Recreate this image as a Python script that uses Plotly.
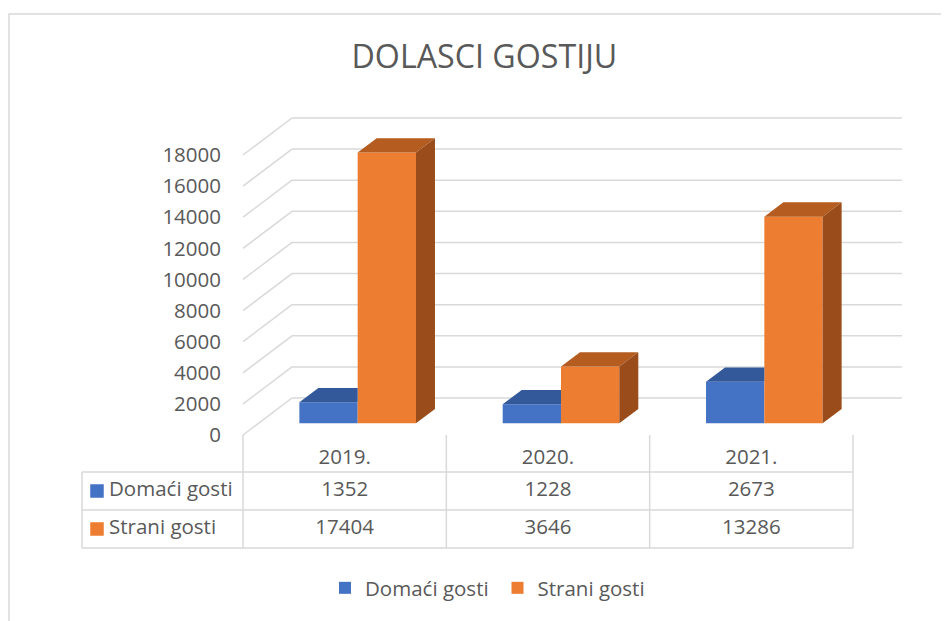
import plotly.graph_objects as go

# ---------------- data ----------------
categories = ["2019.", "2020.", "2021."]
series_names = ["Domaći gosti", "Strani gosti"]
domaci = [1352, 1228, 2673]
strani = [17404, 3646, 13286]
y_ticks = list(range(0, 18001, 2000))
y_tick_labels = [str(v) for v in y_ticks]

# ---------------- styling / geometry ----------------
W, H = 949, 621          # browser window
OFF = 8                  # default page body margin
FW, FH = W - OFF, H - OFF
FONT = "Open Sans"
TXT = "#595959"
GRID = "#D9D9D9"
FRONT = ["#4472C4", "#ED7D31"]
TOP = ["#34599A", "#B55D21"]
SIDE = ["#2A4A80", "#9A4C1B"]

X0_PX = 243.0          # left edge of front plane / first category (window px)
CAT_PX = 203.33        # category width (px)
ZERO_PX = 435.0        # window y pixel of value 0 on the front plane
PPV = 280.0 / 18000    # px per value unit


def ux(px):  # window px -> x data unit
    return (px - X0_PX) / CAT_PX - 0.5


def dv(px):  # px distance -> value distance
    return px / PPV


def px_x(px):  # window px -> paper x
    return (px - OFF) / FW


def px_y(py):  # window px -> paper y
    return 1 - (py - OFF) / FH


FLOOR_DX, FLOOR_DV = 49 / CAT_PX, dv(37)
BAR_SHIFT, BAR_BASE = 13 / CAT_PX, dv(11.7)
BAR_W = 58.3 / CAT_PX
BAR_DX, BAR_DV = 19 / CAT_PX, dv(14.3)

xr = [ux(OFF), ux(W)]
yr = [(ZERO_PX - H) / PPV, (ZERO_PX - OFF) / PPV]

fig = go.Figure()

# ---------------- 3D columns ----------------
series = [domaci, strani]
offsets = [BAR_SHIFT - BAR_W, BAR_SHIFT]
for s, (name, vals) in enumerate(zip(series_names, series)):
    fig.add_trace(go.Bar(
        x=list(range(len(categories))), y=vals, base=BAR_BASE,
        width=BAR_W, offset=offsets[s], name=name,
        marker=dict(color=FRONT[s], line=dict(width=0)),
        showlegend=True, hoverinfo="skip"))

for s, vals in enumerate(series):
    tx, ty, sx, sy = [], [], [], []
    for i, v in enumerate(vals):
        x0 = i + offsets[s]
        x1 = x0 + BAR_W
        t = BAR_BASE + v
        if s == 0:
            # top face; the part hidden behind the taller neighbouring column is clipped
            tx += [x0, x1, x1, x0 + BAR_DX, x0, None]
            ty += [t, t, t + BAR_DV, t + BAR_DV, t, None]
        else:
            tx += [x0, x1, x1 + BAR_DX, x0 + BAR_DX, x0, None]
            ty += [t, t, t + BAR_DV, t + BAR_DV, t, None]
            sx += [x1, x1 + BAR_DX, x1 + BAR_DX, x1, x1, None]
            sy += [BAR_BASE, BAR_BASE + BAR_DV, t + BAR_DV, t, BAR_BASE, None]
    fig.add_trace(go.Scatter(x=tx, y=ty, mode="lines", fill="toself",
                             fillcolor=TOP[s], line=dict(width=0),
                             showlegend=False, hoverinfo="skip"))
    if sx:
        fig.add_trace(go.Scatter(x=sx, y=sy, mode="lines", fill="toself",
                                 fillcolor=SIDE[s], line=dict(width=0),
                                 showlegend=False, hoverinfo="skip"))

# ---------------- gridlines (front diagonals + back wall) ----------------
shapes = []
n = len(categories)
for v in y_ticks:
    shapes.append(dict(type="line", xref="x", yref="y", layer="below",
                       x0=-0.5, y0=v, x1=-0.5 + FLOOR_DX, y1=v + FLOOR_DV,
                       line=dict(color=GRID, width=1.5)))
    shapes.append(dict(type="line", xref="x", yref="y", layer="below",
                       x0=-0.5 + FLOOR_DX, y0=v + FLOOR_DV,
                       x1=n - 0.5 + FLOOR_DX, y1=v + FLOOR_DV,
                       line=dict(color=GRID, width=1.5)))

# ---------------- data table ----------------
HEAD_Y, R1_Y, R2_Y = 459, 491, 529
TBL_LEFT = ux(82)
for yy in (472, 510, 548):
    shapes.append(dict(type="line", xref="x", yref="y2", layer="below",
                       x0=TBL_LEFT, x1=n - 0.5, y0=yy, y1=yy,
                       line=dict(color=GRID, width=1.5)))
for i in range(n + 1):
    shapes.append(dict(type="line", xref="x", yref="y2", layer="below",
                       x0=i - 0.5, x1=i - 0.5, y0=ZERO_PX, y1=548,
                       line=dict(color=GRID, width=1.5)))
shapes.append(dict(type="line", xref="x", yref="y2", layer="below",
                   x0=TBL_LEFT, x1=TBL_LEFT, y0=472, y1=548,
                   line=dict(color=GRID, width=1.5)))

# chart border
shapes.append(dict(type="rect", xref="paper", yref="paper", layer="below",
                   x0=px_x(9), x1=1.05, y0=-0.05, y1=px_y(14),
                   line=dict(color=GRID, width=1.5), fillcolor="rgba(0,0,0,0)"))

tfont = dict(family=FONT, size=20.5, color=TXT)
fig.add_trace(go.Scatter(x=list(range(n)), y=[HEAD_Y] * n, yaxis="y2",
                         mode="text", text=categories, textfont=tfont,
                         showlegend=False, hoverinfo="skip"))
for rowy, vals in ((R1_Y, domaci), (R2_Y, strani)):
    fig.add_trace(go.Scatter(x=list(range(n)), y=[rowy] * n, yaxis="y2",
                             mode="text", text=[str(v) for v in vals],
                             textfont=tfont, showlegend=False, hoverinfo="skip"))
fig.add_trace(go.Scatter(x=[ux(97), ux(97)], y=[R1_Y, R2_Y], yaxis="y2",
                         mode="markers",
                         marker=dict(symbol="square", size=13.5, color=FRONT),
                         showlegend=False, hoverinfo="skip"))
fig.add_trace(go.Scatter(x=[ux(109), ux(109)], y=[R1_Y, R2_Y], yaxis="y2",
                         mode="text", text=series_names, textposition="middle right",
                         textfont=tfont, showlegend=False, hoverinfo="skip"))

fig.update_layout(
    width=FW, height=FH, autosize=False,
    margin=dict(l=0, r=0, t=0, b=0),
    paper_bgcolor="white", plot_bgcolor="white",
    barmode="overlay",
    title=dict(text="DOLASCI GOSTIJU", x=px_x(484.4), xanchor="center",
               xref="paper", y=px_y(56.5), yanchor="middle",
               font=dict(family=FONT, size=32.2, color=TXT)),
    xaxis=dict(range=xr, domain=[0, 1], visible=False, fixedrange=True),
    yaxis=dict(range=yr, domain=[0, 1], anchor="free", position=px_x(X0_PX),
               tickvals=y_ticks, ticktext=y_tick_labels, ticks="",
               showgrid=False, zeroline=False,
               showline=False, ticklabelstandoff=22,
               tickfont=dict(family=FONT, size=20.5, color=TXT), fixedrange=True),
    yaxis2=dict(range=[H, OFF], overlaying="y", anchor="x", visible=False,
                fixedrange=True),
    shapes=shapes,
    legend=dict(orientation="h", x=px_x(325), xanchor="left",
                y=px_y(588), yanchor="middle", entrywidth=127.5,
                font=dict(family=FONT, size=20.5, color=TXT),
                bgcolor="rgba(0,0,0,0)"),
    showlegend=True,
)

fig.write_html("out.html")
